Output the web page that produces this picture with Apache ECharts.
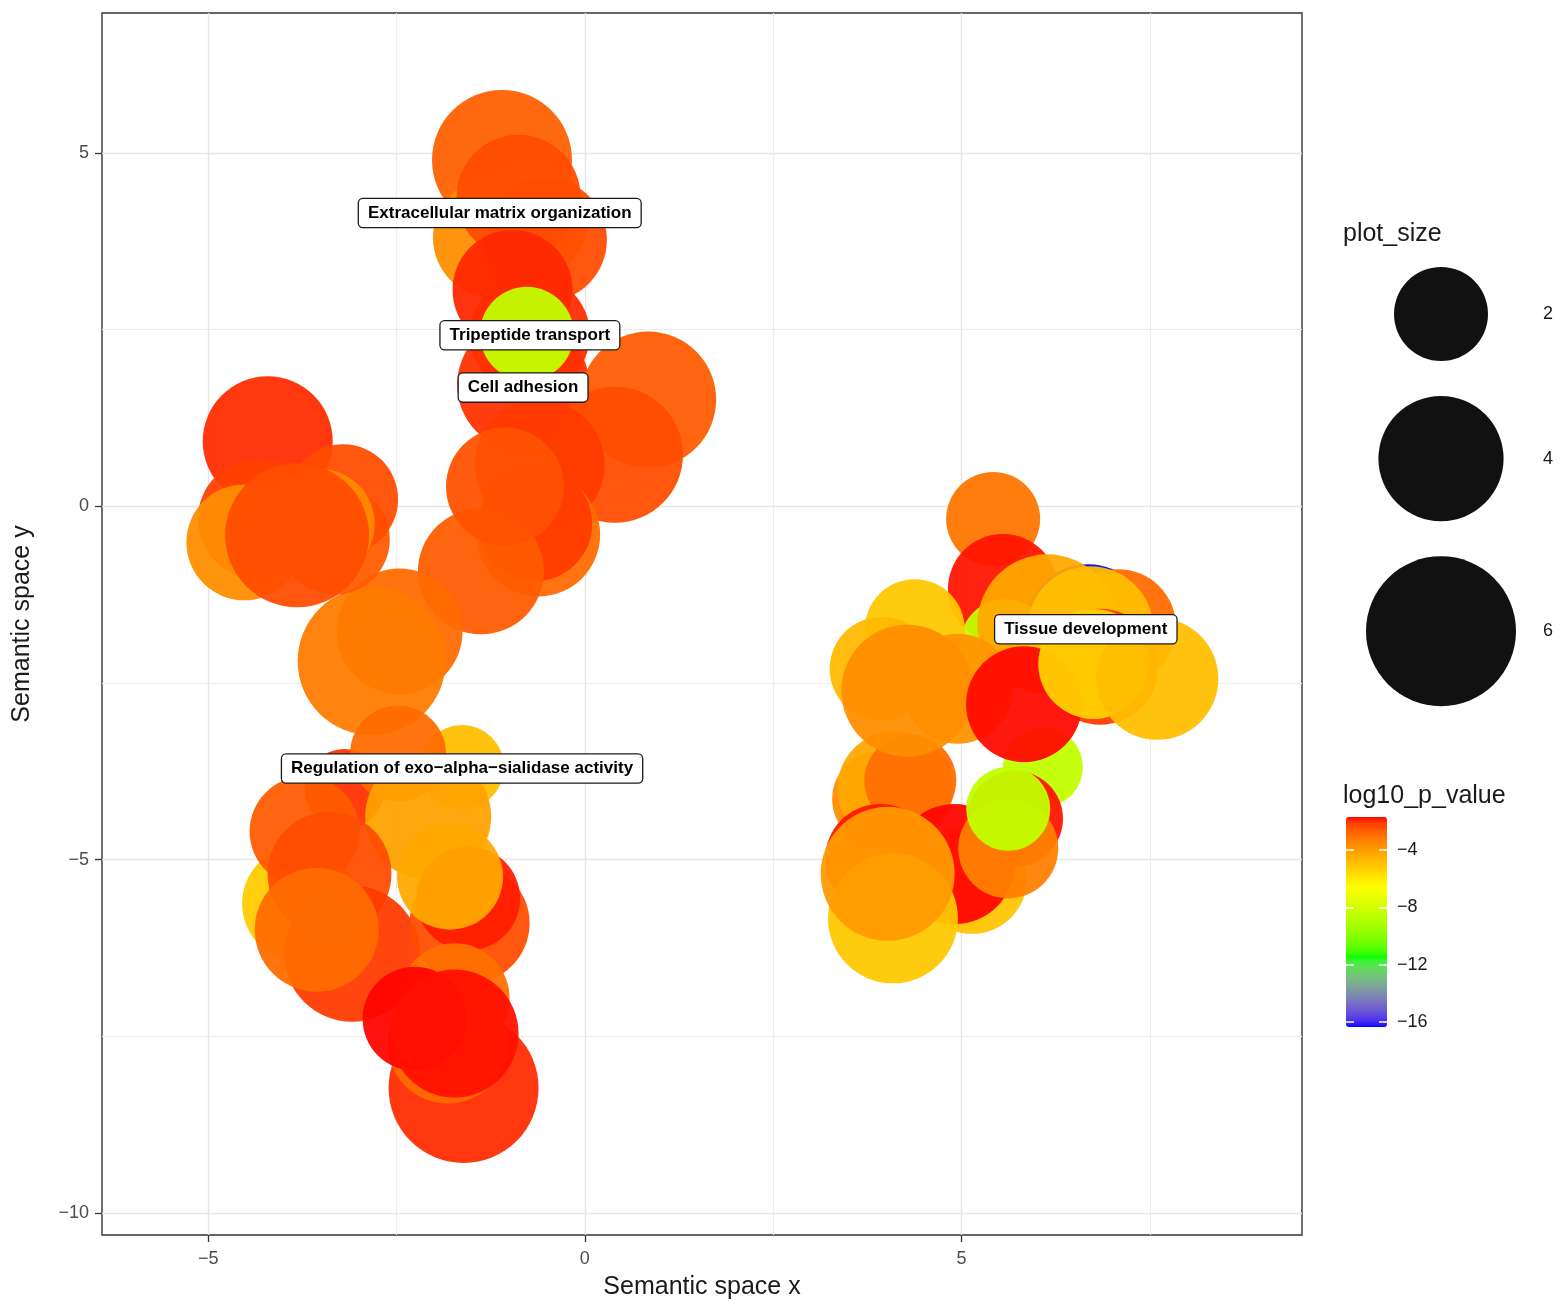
<!DOCTYPE html>
<html>
<head>
<meta charset="utf-8">
<title>Semantic space of enriched GO terms</title>
<script src="https://cdn.jsdelivr.net/npm/echarts@6.0.0/dist/echarts.min.js"></script>
<style>
  html, body { margin: 0; padding: 0; background: #ffffff; }
  #chart { width: 1560px; height: 1305px; }
</style>
</head>
<body>
<div id="chart"></div>
<script>
// GO terms in semantic space, listed in drawing order (later terms sit on top)
const termX = [
  -1.10, -0.73, -1.22, -0.88, -0.53, -0.96, -0.73, -0.82, -0.77, 0.84, 0.40, -0.60, -0.62, -0.66, -1.38, -1.06,
  -2.46, -2.83,
  -4.21, -3.32, -3.21, -4.34, -3.52, -4.52, -3.82,
  -3.19, -1.63, -2.48, -2.08, -3.78, -3.72, -3.39, -3.09, -3.56, -1.53, -1.55, -1.79, -1.73, -1.61, -1.82, -2.26, -1.73,
  5.42, 5.55, 6.68, 7.08, 5.58, 6.14, 6.71, 4.38, 3.94, 4.95, 3.92, 4.12, 4.32, 4.28, 6.84, 6.08, 5.83, 6.75, 7.60,
  5.14, 3.92, 4.91, 5.71, 5.62, 5.62, 4.09, 4.02
];
const termY = [
  4.90, 4.05, 3.80, 4.38, 3.77, 3.06, 2.43, 1.72, 2.44, 1.51, 0.73, 0.59, -0.40, -0.25, -0.92, 0.28,
  -1.77, -2.19,
  0.92, -0.47, 0.10, -0.18, -0.25, -0.51, -0.41,
  -4.00, -3.69, -3.50, -4.39, -5.62, -4.60, -5.20, -6.33, -5.99, -5.90, -5.55, -5.24, -6.96, -8.23, -7.60, -7.25, -7.46,
  -0.18, -1.17, -1.71, -1.71, -1.95, -1.67, -1.74, -1.74, -2.30, -2.58, -4.14, -4.00, -3.88, -2.61, -2.27, -3.69, -2.80, -2.23, -2.44,
  -5.27, -4.99, -5.06, -4.42, -4.84, -4.28, -5.83, -5.20
];
const termSize = [
  5.15, 3.35, 3.63, 3.91, 3.91, 3.63, 3.63, 4.51, 2.00, 4.83, 4.83, 4.36, 3.91, 3.22, 4.06, 3.49,
  4.06, 5.83,
  4.36, 2.96, 2.96, 3.63, 2.96, 3.35, 5.48,
  1.29, 1.48, 2.11, 4.06, 3.35, 2.96, 3.91, 4.83, 3.91, 3.63, 2.58, 2.70, 2.96, 6.00, 3.63, 2.58, 4.21,
  2.00, 2.96, 4.06, 3.35, 1.78, 5.15, 4.06, 2.34, 2.58, 2.96, 2.11, 3.35, 1.89, 4.51, 3.35, 1.29, 3.35, 2.96, 3.77,
  2.96, 2.96, 3.63, 2.11, 2.34, 1.48, 4.36, 4.67
];
const termLogP = [
  -2.70, -3.60, -3.65, -2.35, -2.35, -1.90, -1.95, -2.00, -8.50, -2.60, -2.35, -2.10, -2.90, -2.10, -2.60, -2.45,
  -2.90, -3.25,
  -1.95, -2.60, -2.35, -2.20, -3.60, -3.65, -2.35,
  -2.00, -4.85, -2.90, -4.15, -5.20, -2.60, -2.35, -2.10, -2.90, -2.35, -1.85, -4.30, -3.00, -1.95, -2.90, -1.72, -1.78,
  -3.10, -1.80, -16.35, -2.90, -8.50, -4.30, -4.85, -5.10, -4.75, -3.80, -3.60, -4.30, -2.95, -3.65, -2.10, -8.50, -1.75, -5.35, -4.85,
  -5.00, -1.80, -1.72, -1.80, -3.35, -8.50, -5.10, -3.97
];

// Representative term labels and where their boxes sit
const labelText = [
  'Extracellular matrix organization',
  'Tripeptide transport',
  'Cell adhesion',
  'Regulation of exo\u2212alpha\u2212sialidase activity',
  'Tissue development'
];
const labelX = [-1.13, -0.73, -0.82, -1.63, 6.65];
const labelY = [4.15, 2.42, 1.68, -3.71, -1.74];

// Axes
const xRange = [-6.41, 9.52];
const yRange = [-10.31, 6.98];
const xTicks = [-5, 0, 5];
const xMinorTicks = [-2.5, 2.5, 7.5];
const yTicks = [-10, -5, 0, 5];
const yMinorTicks = [-7.5, -2.5, 2.5];

// Legends
const sizeLegendValues = [2, 4, 6];
const pValueRange = [-16.35, -1.7];
const pValueTicks = [-16, -12, -8, -4];
const gradientStops = ['#0000FF', '#00FF00', '#FFFF00', '#FF0000'];

const FONT = "'Liberation Sans', Arial, Helvetica, sans-serif";

// Bubble area grows linearly with plot_size
function bubbleDiameter(size) {
  return 2 * Math.sqrt(501 + 854 * size);
}

function minusLabel(v) {
  return v < 0 ? '\u2212' + Math.abs(v) : String(v);
}

// Colour gradient interpolated in CIE Lab space
const WHITE = [0.95047, 1.0, 1.08883];
function toLinear(c) { c /= 255; return c <= 0.04045 ? c / 12.92 : Math.pow((c + 0.055) / 1.055, 2.4); }
function toSrgb(c) {
  c = c <= 0.0031308 ? 12.92 * c : 1.055 * Math.pow(c, 1 / 2.4) - 0.055;
  return Math.round(Math.max(0, Math.min(1, c)) * 255);
}
function fLab(t) { return t > 0.008856 ? Math.cbrt(t) : 7.787 * t + 16 / 116; }
function fInv(t) { return t > 0.206893 ? t * t * t : (t - 16 / 116) / 7.787; }
function hexToLab(hex) {
  const r = toLinear(parseInt(hex.slice(1, 3), 16));
  const g = toLinear(parseInt(hex.slice(3, 5), 16));
  const b = toLinear(parseInt(hex.slice(5, 7), 16));
  const X = 0.4124 * r + 0.3576 * g + 0.1805 * b;
  const Y = 0.2126 * r + 0.7152 * g + 0.0722 * b;
  const Z = 0.0193 * r + 0.1192 * g + 0.9505 * b;
  const fx = fLab(X / WHITE[0]), fy = fLab(Y / WHITE[1]), fz = fLab(Z / WHITE[2]);
  return [116 * fy - 16, 500 * (fx - fy), 200 * (fy - fz)];
}
function labToHex(L, a, bb) {
  const fy = (L + 16) / 116, fx = fy + a / 500, fz = fy - bb / 200;
  const X = WHITE[0] * fInv(fx), Y = WHITE[1] * fInv(fy), Z = WHITE[2] * fInv(fz);
  const r = 3.2406 * X - 1.5372 * Y - 0.4986 * Z;
  const g = -0.9689 * X + 1.8758 * Y + 0.0415 * Z;
  const b = 0.0557 * X - 0.2040 * Y + 1.0570 * Z;
  const h = v => toSrgb(v).toString(16).padStart(2, '0');
  return '#' + h(r) + h(g) + h(b);
}
function labPalette(stops, n) {
  const labs = stops.map(hexToLab);
  const out = [];
  for (let i = 0; i < n; i++) {
    const t = i / (n - 1) * (labs.length - 1);
    const k = Math.min(Math.floor(t), labs.length - 2);
    const f = t - k;
    const A = labs[k], B = labs[k + 1];
    out.push(labToHex(A[0] + (B[0] - A[0]) * f, A[1] + (B[1] - A[1]) * f, A[2] + (B[2] - A[2]) * f));
  }
  return out;
}
const palette = labPalette(gradientStops, 73);

// Size legend key positions: keys stacked with a fixed gap between them
const keyGap = 35;
const keyCenters = [];
let keyCursor = 0;
sizeLegendValues.forEach(s => {
  const d = bubbleDiameter(s);
  keyCenters.push(keyCursor + d / 2);
  keyCursor += d + keyGap;
});
const keyTotal = keyCursor - keyGap;

const termData = termX.map((x, i) => [x, termY[i], termSize[i], termLogP[i]]);
const labelData = labelText.map((t, i) => ({ name: t, value: [labelX[i], labelY[i]] }));
const legendData = sizeLegendValues.map((s, i) => [0.5, keyCenters[i], s]);

// Panel grid lines, kept underneath the bubbles
function gridLines(xs, ys, width, color) {
  return {
    z: 1,
    silent: true,
    symbol: ['none', 'none'],
    label: { show: false },
    emphasis: { disabled: true },
    animation: false,
    lineStyle: { type: 'solid', color: color, width: width },
    data: xs.map(v => ({ xAxis: v })).concat(ys.map(v => ({ yAxis: v })))
  };
}

const chart = echarts.init(document.getElementById('chart'), null, { renderer: 'canvas' });

chart.setOption({
  animation: false,
  backgroundColor: '#ffffff',
  textStyle: { fontFamily: FONT },
  title: [
    { text: 'plot_size', left: 1343, top: 222, padding: 0,
      textStyle: { fontSize: 25, fontWeight: 'normal', color: '#1a1a1a', fontFamily: FONT } },
    { text: 'log10_p_value', left: 1343, top: 784, padding: 0,
      textStyle: { fontSize: 25, fontWeight: 'normal', color: '#1a1a1a', fontFamily: FONT } }
  ],
  grid: [
    { left: 102, top: 13, width: 1200, height: 1224, show: true, backgroundColor: '#ffffff',
      borderColor: '#333333', borderWidth: 1.4 },
    { left: 1366, top: 267, width: 150, height: keyTotal },
    { left: 1346, top: 817, width: 41, height: 210 }
  ],
  xAxis: [
    {
      type: 'value', gridIndex: 0, min: xRange[0], max: xRange[1], position: 'bottom',
      name: 'Semantic space x', nameLocation: 'middle', nameGap: 40,
      nameTextStyle: { fontSize: 25, color: '#1a1a1a', fontFamily: FONT },
      axisLine: { show: false, onZero: false },
      axisTick: { show: true, length: 7, customValues: xTicks, lineStyle: { color: '#333333', width: 1.3 } },
      axisLabel: { customValues: xTicks, formatter: minusLabel, color: '#4d4d4d', fontSize: 18, margin: 15, fontFamily: FONT },
      splitLine: { show: false }
    },
    { type: 'value', gridIndex: 1, min: 0, max: 1, show: false },
    { type: 'value', gridIndex: 2, min: 0, max: 1, show: false }
  ],
  yAxis: [
    {
      type: 'value', gridIndex: 0, min: yRange[0], max: yRange[1], position: 'left',
      name: 'Semantic space y', nameLocation: 'middle', nameGap: 67,
      nameTextStyle: { fontSize: 25, color: '#1a1a1a', fontFamily: FONT },
      axisLine: { show: false, onZero: false },
      axisTick: { show: true, length: 7, customValues: yTicks, lineStyle: { color: '#333333', width: 1.3 } },
      axisLabel: { customValues: yTicks, formatter: minusLabel, color: '#4d4d4d', fontSize: 18, margin: 13, fontFamily: FONT },
      splitLine: { show: false }
    },
    {
      type: 'value', gridIndex: 1, min: 0, max: keyTotal, inverse: true, position: 'right',
      axisLine: { show: false, onZero: false }, axisTick: { show: false }, splitLine: { show: false },
      axisLabel: {
        customValues: keyCenters, margin: 27, fontSize: 18, color: '#1a1a1a', fontFamily: FONT,
        formatter: v => {
          const i = keyCenters.findIndex(c => Math.abs(c - v) < 0.5);
          return i >= 0 ? String(sizeLegendValues[i]) : '';
        }
      }
    },
    {
      type: 'value', gridIndex: 2, min: pValueRange[0], max: pValueRange[1], position: 'right', z: 10,
      axisLine: { show: false, onZero: false }, splitLine: { show: false },
      axisTick: { show: true, inside: true, length: 8, customValues: pValueTicks, lineStyle: { color: '#ffffff', width: 1.5 } },
      axisLabel: { customValues: pValueTicks, formatter: minusLabel, margin: 10, fontSize: 18, color: '#1a1a1a', fontFamily: FONT }
    },
    {
      type: 'value', gridIndex: 2, min: pValueRange[0], max: pValueRange[1], position: 'left', z: 10,
      axisLine: { show: false, onZero: false }, splitLine: { show: false }, axisLabel: { show: false },
      axisTick: { show: true, inside: true, length: 8, customValues: pValueTicks, lineStyle: { color: '#ffffff', width: 1.5 } }
    }
  ],
  visualMap: {
    type: 'continuous',
    seriesIndex: 0,
    dimension: 3,
    min: pValueRange[0],
    max: pValueRange[1],
    inRange: { color: palette },
    calculable: false,
    realtime: false,
    hoverLink: false,
    left: 1346,
    top: 817,
    padding: 0,
    itemWidth: 41,
    itemHeight: 210,
    text: null,
    showLabel: false
  },
  series: [
    {
      name: 'GO terms',
      type: 'scatter',
      xAxisIndex: 0, yAxisIndex: 0,
      z: 3,
      data: termData,
      symbol: 'circle',
      symbolSize: v => bubbleDiameter(v[2]),
      itemStyle: { opacity: 0.94 },
      emphasis: { disabled: true },
      silent: true,
      progressive: 0
    },
    {
      name: 'major grid',
      type: 'scatter', xAxisIndex: 0, yAxisIndex: 0, z: 1, data: [], silent: true,
      markLine: gridLines(xTicks, yTicks, 1.4, '#e6e6e6')
    },
    {
      name: 'minor grid',
      type: 'scatter', xAxisIndex: 0, yAxisIndex: 0, z: 1, data: [], silent: true,
      markLine: gridLines(xMinorTicks, yMinorTicks, 1.1, '#ececec')
    },
    {
      name: 'plot_size',
      type: 'scatter', xAxisIndex: 1, yAxisIndex: 1,
      data: legendData,
      symbolSize: v => bubbleDiameter(v[2]),
      itemStyle: { color: '#111111', opacity: 1 },
      silent: true
    },
    {
      name: 'term labels',
      type: 'scatter', xAxisIndex: 0, yAxisIndex: 0,
      z: 10,
      data: labelData,
      symbolSize: 0.01,
      itemStyle: { color: '#ffffff', opacity: 1 },
      silent: true,
      label: {
        show: true,
        position: 'inside',
        formatter: '{b}',
        opacity: 1,
        fontFamily: FONT,
        fontSize: 17,
        fontWeight: 'bold',
        color: '#000000',
        backgroundColor: '#ffffff',
        borderColor: '#1a1a1a',
        borderWidth: 1.3,
        borderRadius: 4,
        padding: [6, 9, 5, 9]
      }
    }
  ]
});
</script>
</body>
</html>
